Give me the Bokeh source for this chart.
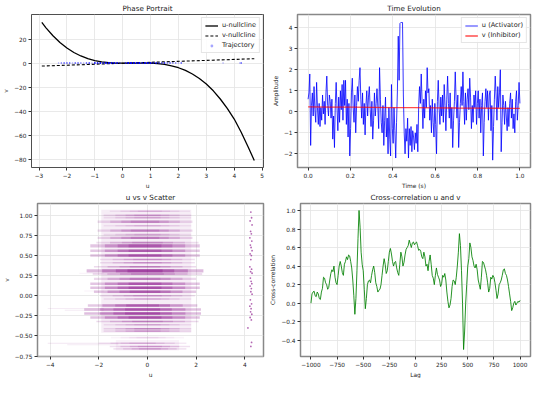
import numpy as np
from bokeh.plotting import figure
from bokeh.layouts import column, row
from bokeh.models import FixedTicker, Legend, LegendItem, Range1d, Title
from bokeh.embed import file_html
from bokeh.resources import INLINE

FONT = "DejaVu Sans"
TICK_FS = "5.8px"
LABEL_FS = "5.9px"
TITLE_FS = "7.2px"
LEGEND_FS = "6.6px"

# ---------------- Phase portrait ----------------
null_u = [-2.9, -2.75, -2.5, -2.25, -2.0, -1.75, -1.5, -1.25, -1.0, -0.75, -0.5, -0.25,
          0.0, 0.25, 0.5, 0.75, 1.0, 1.25, 1.5, 1.75, 2.0, 2.25, 2.5, 2.75, 3.0, 3.25,
          3.5, 3.75, 4.0, 4.25, 4.5, 4.72]
null_v = [33.9, 29.4, 22.8, 17.2, 12.6, 8.9, 6.0, 3.8, 2.2, 1.1, 0.45, 0.11,
          0.0, 0.03, 0.10, 0.12, 0.0, -0.36, -1.05, -2.17, -3.8, -6.05, -9.0, -12.8, -17.4, -23.0,
          -29.8, -37.6, -46.5, -57.5, -69.8, -81.0]
vnull_u = [-2.9, 4.72]
vnull_v = [-2.4, 3.7]

# ---------------- Time evolution ----------------
u_series = [
    0.6, 0.9, 1.8, -1.6, 0.3, 0.9, -0.2, 1.2, 0.1, -0.5, 1.4, 0.2, -0.6, 0.4, -0.7, 0.2, -0.4, 0.8, -0.1, 0.5, -0.6, 0.9, 1.7, 0.3, -0.2,
    0.8, 0.5, -0.3, 0.6, -1.3, -0.2, -1.7, 0.4, 1.4, 0.2, -0.9, 0.7, -0.5, 1.0, 0.1, 1.3, -0.4, 1.5, 0.3, 1.5, -0.6, 0.6, -1.2, 0.4, -2.1,
    -0.8, 0.9, 1.6, 0.2, -0.5, 0.8, -1.0, 0.3, 1.2, 0.5, 1.5, 2.1, 0.6, -0.3, 0.9, -0.6, 0.4, -1.1, 0.3, 1.0, -0.2, 0.7, 1.2, 0.1, -0.7,
    0.5, -1.3, -0.4, 0.9, -0.2, 0.4, 1.1, 0.2, -0.8, 2.1, 0.6, -0.5, -1.0, 0.3, -1.6, -0.4, 0.7, -1.2, -0.3, -2.0, 0.2, -1.3, -2.1, 1.3, -0.8,
    -1.5, 0.2, -0.9, -2.2, -0.5, 1.0, 3.6, 1.5, 4.2, 4.25, 4.25, 4.25, 0.8, -1.0, -2.0, -0.8, -1.4, -0.3, -2.2, -0.8, -1.6, -0.7, -1.9, -0.9, -1.2,
    -1.8, -1.0, -1.5, -0.6, -1.9, 0.3, 1.2, 0.4, 1.8, 0.5, -0.8, 0.6, -0.3, 1.0, 0.2, 2.1, 0.9, 1.1, -0.4, 0.3, -1.0, 0.6, -0.5, -1.2, 0.4,
    -0.6, -2.0, 0.5, 1.5, 0.2, -0.6, 0.7, -0.2, 0.8, -0.5, 1.3, 0.3, -0.9, 0.6, 1.7, 0.4, -0.3, 0.9, -0.8, 0.2, -1.7, -0.4, 0.5, 1.9, 0.6,
    -0.3, 0.8, -1.7, -0.5, 0.4, 1.2, 0.3, 1.9, 0.5, -0.6, 0.9, -0.4, 0.6, 1.1, 0.1, 1.6, 0.7, -0.8, 0.3, -0.5, 0.8, 0.2, 1.0, -0.6, 0.4,
    1.0, -0.3, 0.6, -1.0, 0.3, 0.9, -2.1, -0.5, 0.5, 1.1, 0.2, 1.0, -0.4, 0.8, 1.0, -0.9, 0.3, -2.3, -0.7, 0.6, 1.7, 0.8, -0.4, 1.2, 0.2,
    0.9, 2.0, -1.9, -0.5, 0.8, 0.3, -0.6, 0.5, -0.2, -0.9, 0.2, -0.7, 0.4, 0.9, -0.3, 0.6, -0.8, -0.1, -1.0, 0.5, 1.0, -0.4, 0.3, 1.4, 0.4,
]
v_times = [0.0, 0.1, 0.2, 0.3, 0.4, 0.5, 0.6, 0.7, 0.8, 0.9, 1.0]
v_series = [0.23, 0.225, 0.22, 0.21, 0.20, 0.195, 0.19, 0.18, 0.175, 0.17, 0.16]

# ---------------- u vs v scatter (density bands) ----------------
band_v = [1.05, 1.00, 0.97, 0.92, 0.87, 0.81, 0.76, 0.72, 0.66, 0.62, 0.56, 0.50, 0.45, 0.41,
          0.36, 0.31, 0.27, 0.21, 0.15, 0.10, 0.05, 0.00, -0.04, -0.12, -0.17, -0.22, -0.27,
          -0.32, -0.36, -0.41, -0.44, -0.52, -0.59, -0.63, -0.66]
band_h = [0.02, 0.02, 0.02, 0.03, 0.02, 0.03, 0.02, 0.03, 0.02, 0.04, 0.03, 0.03, 0.02, 0.02,
          0.02, 0.04, 0.02, 0.03, 0.03, 0.03, 0.03, 0.02, 0.02, 0.03, 0.03, 0.03, 0.03,
          0.02, 0.02, 0.02, 0.02, 0.02, 0.02, 0.02, 0.02]
band_d = [0.25, 0.35, 0.30, 0.45, 0.25, 0.50, 0.30, 0.50, 0.45, 0.75, 0.70, 0.75, 0.40, 0.40,
          0.50, 0.90, 0.60, 0.50, 0.75, 0.80, 0.70, 0.35, 0.30, 0.70, 0.80, 0.85, 0.80,
          0.50, 0.30, 0.45, 0.35, 0.15, 0.30, 0.40, 0.35]
band_w = [1.1, 1.2, 1.2, 1.3, 1.2, 1.3, 1.2, 1.3, 1.4, 1.5, 1.5, 1.5, 1.3, 1.3,
          1.4, 1.6, 1.5, 1.4, 1.5, 1.5, 1.4, 1.3, 1.2, 1.5, 1.6, 1.6, 1.5,
          1.4, 1.2, 1.2, 1.2, 1.0, 1.2, 1.1, 1.0]
band_c = [0.1, 0.0, 0.0, -0.1, 0.0, -0.1, 0.0, -0.1, 0.0, -0.1, -0.1, -0.1, 0.0, 0.0,
          -0.1, -0.1, 0.0, -0.1, -0.1, -0.1, -0.1, 0.0, 0.0, -0.2, -0.2, -0.2, -0.1,
          0.0, 0.0, 0.0, 0.0, 0.0, -0.2, 0.1, 0.1]
haze_v_lo = [-0.46, -0.68]
haze_v_hi = [1.07, -0.55]
haze_u_lo = [-1.9, -1.3]
haze_u_hi = [1.8, 1.3]
haze_a = [0.07, 0.05]
tail_v = [-0.16, -0.18, -0.59, -0.61, 0.28, 0.06]
tail_l = [-4.1, -3.4, -4.1, -3.3, -2.8, -2.6]
tail_r = [-1.8, -1.8, -1.2, -1.2, -1.8, -1.8]
tail_a = [0.10, 0.08, 0.10, 0.08, 0.06, 0.06]
col_u = [4.25, 4.28, 4.22, 4.30, 4.24, 4.27, 4.21, 4.29, 4.23, 4.26, 4.30, 4.22, 4.27, 4.25,
         4.21, 4.28, 4.24, 4.30, 4.23, 4.26, 4.29, 4.22, 4.27, 4.25, 4.30, 4.23, 4.28, 4.21,
         4.26, 4.24, 4.29, 4.22, 4.27, 4.13, 4.28, 4.25]
col_v = [1.04, 0.97, 0.93, 0.88, 0.80, 0.77, 0.72, 0.68, 0.63, 0.60, 0.56, 0.52, 0.50, 0.45,
         0.36, 0.33, 0.30, 0.28, 0.22, 0.18, 0.15, 0.12, 0.09, 0.05, 0.02, -0.05, -0.10, -0.13,
         -0.16, -0.20, -0.23, -0.27, -0.30, -0.40, -0.58, -0.63]

# ---------------- Cross-correlation (lag -1000..1000, every 10) ----------------
xcorr = [
    0.00, 0.10, 0.12, 0.13, 0.08, 0.07, 0.12, 0.10, 0.05, 0.04,
    0.12, 0.16, 0.28, 0.27, 0.22, 0.20, 0.15, 0.17, 0.25, 0.32,
    0.36, 0.34, 0.40, 0.28, 0.22, 0.20, 0.30, 0.40, 0.45, 0.40,
    0.33, 0.30, 0.42, 0.45, 0.50, 0.47, 0.52, 0.51, 0.45, 0.38,
    0.25, 0.08, -0.12, 0.05, 0.35, 0.70, 1.00, 0.82, 0.55, 0.42,
    0.35, 0.15, -0.06, 0.05, 0.20, 0.24, 0.25, 0.22, 0.30, 0.36,
    0.40, 0.33, 0.22, 0.18, 0.12, 0.14, 0.15, 0.20, 0.30, 0.40,
    0.48, 0.42, 0.32, 0.35, 0.45, 0.55, 0.59, 0.53, 0.45, 0.40,
    0.44, 0.45, 0.38, 0.33, 0.30, 0.42, 0.55, 0.50, 0.40, 0.44,
    0.52, 0.58, 0.60, 0.62, 0.68, 0.64, 0.60, 0.65, 0.66, 0.63,
    0.65, 0.66, 0.62, 0.57, 0.58, 0.56, 0.50, 0.48, 0.55, 0.50,
    0.40, 0.42, 0.35, 0.45, 0.52, 0.42, 0.30, 0.27, 0.20, 0.30,
    0.38, 0.31, 0.28, 0.25, 0.18, 0.21, 0.30, 0.28, 0.32, 0.25,
    0.12, 0.02, -0.05, -0.02, 0.05, 0.18, 0.25, 0.24, 0.20, 0.28,
    0.40, 0.55, 0.75, 0.62, 0.35, 0.00, -0.50, -0.30, 0.00, 0.20,
    0.40, 0.48, 0.65, 0.60, 0.50, 0.46, 0.40, 0.38, 0.42, 0.36,
    0.25, 0.20, 0.15, 0.28, 0.45, 0.44, 0.40, 0.36, 0.30, 0.22,
    0.12, 0.16, 0.28, 0.26, 0.30, 0.28, 0.22, 0.14, 0.05, 0.10,
    0.20, 0.22, 0.25, 0.30, 0.36, 0.37, 0.32, 0.30, 0.25, 0.18,
    0.10, 0.02, -0.08, -0.05, 0.00, 0.02, -0.02, 0.00, 0.02, 0.01,
    0.03,
]

# ---------------- Tick labels ----------------
M = "\u2212"
ph_xt = [-3, -2, -1, 0, 1, 2, 3, 4, 5]
ph_xl = [M + "3", M + "2", M + "1", "0", "1", "2", "3", "4", "5"]
ph_yt = [-80, -60, -40, -20, 0, 20]
ph_yl = [M + "80", M + "60", M + "40", M + "20", "0", "20"]
te_xt = [0.0, 0.2, 0.4, 0.6, 0.8, 1.0]
te_xl = ["0.0", "0.2", "0.4", "0.6", "0.8", "1.0"]
te_yt = [-2, -1, 0, 1, 2, 3, 4]
te_yl = [M + "2", M + "1", "0", "1", "2", "3", "4"]
sc_xt = [-4, -2, 0, 2, 4]
sc_xl = [M + "4", M + "2", "0", "2", "4"]
sc_yt = [-0.75, -0.5, -0.25, 0.0, 0.25, 0.5, 0.75, 1.0]
sc_yl = [M + "0.75", M + "0.50", M + "0.25", "0.00", "0.25", "0.50", "0.75", "1.00"]
xc_xt = [-1000, -750, -500, -250, 0, 250, 500, 750, 1000]
xc_xl = [M + "1000", M + "750", M + "500", M + "250", "0", "250", "500", "750", "1000"]
xc_yt = [-0.4, -0.2, 0.0, 0.2, 0.4, 0.6, 0.8, 1.0]
xc_yl = [M + "0.4", M + "0.2", "0.0", "0.2", "0.4", "0.6", "0.8", "1.0"]


def make_fig(title, xr, yr, left, outline_color, outline_width):
    p = figure(width=267, height=189, output_backend="svg", toolbar_location=None,
               x_range=Range1d(*xr), y_range=Range1d(*yr),
               min_border_left=left, min_border_right=4, min_border_top=0, min_border_bottom=0)
    p.title.text = title
    p.title.align = "center"
    p.title.text_font = FONT
    p.title.text_font_size = TITLE_FS
    p.title.text_font_style = "normal"
    p.title.text_color = "#222222"
    p.title.standoff = 3
    p.outline_line_color = outline_color
    p.outline_line_width = outline_width
    p.outline_line_alpha = 1.0
    p.background_fill_color = "white"
    p.border_fill_color = "white"
    return p


def style_axes(p, xt, xl, yt, yl, xlab, ylab):
    p.xaxis.ticker = FixedTicker(ticks=xt)
    p.yaxis.ticker = FixedTicker(ticks=yt)
    p.xaxis.major_label_overrides = dict(zip(xt, xl))
    p.yaxis.major_label_overrides = dict(zip(yt, yl))
    p.yaxis.axis_label = ylab
    for ax in (p.xaxis, p.yaxis):
        ax.axis_line_color = None
        ax.minor_tick_line_color = None
        ax.major_tick_out = 3
        ax.major_tick_in = 0
        ax.major_tick_line_color = "#333333"
        ax.major_label_text_font = FONT
        ax.major_label_text_font_size = TICK_FS
        ax.major_label_text_color = "#222222"
        ax.major_label_standoff = 2
        ax.axis_label_text_font = FONT
        ax.axis_label_text_font_size = LABEL_FS
        ax.axis_label_text_font_style = "normal"
        ax.axis_label_text_color = "#222222"
        ax.axis_label_standoff = 2
    p.grid.grid_line_color = "#e3e3e3"
    p.grid.grid_line_width = 0.8
    p.add_layout(Title(text=xlab, align="center", text_font=FONT, text_font_size=LABEL_FS,
                       text_font_style="normal", text_color="#222222", standoff=1, offset=0),
                 "below")


def style_legend(leg):
    leg.label_text_font = FONT
    leg.label_text_font_size = LEGEND_FS
    leg.label_text_color = "#222222"
    leg.glyph_height = 7
    leg.glyph_width = 13
    leg.label_height = 7
    leg.label_standoff = 4
    leg.spacing = 2
    leg.padding = 3
    leg.margin = 3
    leg.border_line_color = "#cccccc"
    leg.border_line_width = 0.8
    leg.background_fill_alpha = 0.85


# ---- Phase Portrait ----
p1 = make_fig("Phase Portrait", (-3.27, 5.05), (-86.8, 40.5), 27, "#222222", 0.8)
style_axes(p1, ph_xt, ph_xl, ph_yt, ph_yl, "u", "v")
r_un = p1.line(null_u, null_v, line_color="black", line_width=1.3)
r_vn = p1.line(vnull_u, vnull_v, line_color="black", line_width=1.1, line_dash="3 2")
t_arr = np.linspace(0.0, 1.0, len(u_series))
traj_v = np.array(v_series)[np.rint(t_arr * 10).astype(int)]
r_tr = p1.scatter(u_series, traj_v, size=1.5, color="blue", alpha=0.35, line_color=None)
leg1 = Legend(items=[LegendItem(label="u-nullcline", renderers=[r_un]),
                     LegendItem(label="v-nullcline", renderers=[r_vn]),
                     LegendItem(label="Trajectory", renderers=[r_tr])],
              location="top_right")
style_legend(leg1)
p1.add_layout(leg1)

# ---- Time Evolution ----
p2 = make_fig("Time Evolution", (-0.05, 1.05), (-2.65, 4.63), 30, "#888888", 1.5)
style_axes(p2, te_xt, te_xl, te_yt, te_yl, "Time (s)", "Amplitude")
r_u = p2.line(t_arr, u_series, line_color="blue", line_width=1.0, line_alpha=0.8)
r_v = p2.line(v_times, v_series, line_color="red", line_width=1.3, line_alpha=0.7)
leg2 = Legend(items=[LegendItem(label="u (Activator)", renderers=[r_u]),
                     LegendItem(label="v (Inhibitor)", renderers=[r_v])],
              location="top_right")
style_legend(leg2)
p2.add_layout(leg2)

# ---- u vs v Scatter ----
p3 = make_fig("u vs v Scatter", (-4.52, 4.77), (-0.755, 1.147), 27, "#888888", 1.5)
style_axes(p3, sc_xt, sc_xl, sc_yt, sc_yl, "u", "v")
hl = np.array(haze_u_lo)
hh = np.array(haze_u_hi)
vl = np.array(haze_v_lo)
vh = np.array(haze_v_hi)
p3.rect(x=(hl + hh) / 2, y=(vl + vh) / 2, width=hh - hl, height=vh - vl,
        fill_color="purple", fill_alpha=haze_a, line_color=None)
bw = np.array(band_w)
bd = np.array(band_d)
for f in (1.5, 1.1, 0.75, 0.45):
    p3.rect(x=band_c, y=band_v, width=bw * 2 * f, height=band_h,
            fill_color="purple", fill_alpha=bd * 0.3, line_color=None)
tl = np.array(tail_l)
tr = np.array(tail_r)
p3.rect(x=(tl + tr) / 2, y=tail_v, width=tr - tl, height=0.012,
        fill_color="purple", fill_alpha=tail_a, line_color=None)
p3.scatter(col_u, col_v, size=1.8, color="purple", alpha=0.6, line_color=None)

# ---- Cross-correlation ----
p4 = make_fig("Cross-correlation u and v", (-1100, 1100), (-0.575, 1.075), 30, "#888888", 1.5)
style_axes(p4, xc_xt, xc_xl, xc_yt, xc_yl, "Lag", "Cross-correlation")
lags = np.linspace(-1000, 1000, len(xcorr))
p4.line(lags, xcorr, line_color="green", line_width=1.0, line_alpha=0.85)

layout = column(row(p1, p2), row(p3, p4))
open("out.html", "w").write(file_html(layout, INLINE))
